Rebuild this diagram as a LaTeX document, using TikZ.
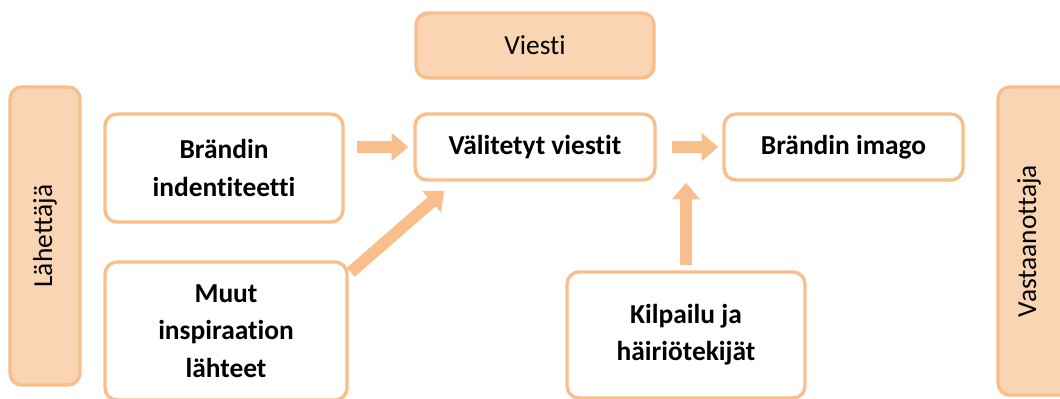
\documentclass[tikz,border=0pt]{standalone}
\usepackage{fontspec}
\setmainfont{Carlito}[Ligatures=NoCommon]
\usepackage{tikz}
\usetikzlibrary{arrows.meta,calc}

\definecolor{peach}{HTML}{F8BE8B}
\definecolor{peachfill}{HTML}{FAD5B4}

\begin{document}
\begin{tikzpicture}[x=0.025cm,y=-0.025cm,
	box/.style={draw=peach,line width=2.4pt,rounded corners=0.3cm,fill=white,align=center,
		font=\fontsize{19.5}{26.5}\selectfont\bfseries},
	tone/.style={draw=peach,line width=2.4pt,rounded corners=0.3cm,fill=peachfill,align=center,
		font=\fontsize{19.5}{26.5}\selectfont},
	bigarrow/.style={draw=peach,line width=0.3cm,-{Triangle[length=0.42cm,width=0.68cm]}}]
			\useasboundingbox (0,0) rectangle (1060,399);
			\node[tone,minimum width=70*0.025cm,minimum height=298*0.025cm] (send) at (45,236) {};
			\node[rotate=90,font=\fontsize{19.5}{26.5}\selectfont] at (send) {Lähettäjä};
			\node[tone,minimum width=80*0.025cm,minimum height=308*0.025cm] (recv) at (1038,241) {};
			\node[rotate=90,font=\fontsize{19.5}{26.5}\selectfont] at (1029,241) {Vastaanottaja};
			\node[tone,minimum width=238*0.025cm,minimum height=65*0.025cm] (msg) at (535,45.5) {Viesti};
			\node[box,minimum width=238*0.025cm,minimum height=108*0.025cm] (ident) at (224,168) {Brändin\\indentiteetti};
			\node[box,minimum width=242*0.025cm,minimum height=138*0.025cm] (muut) at (226,331) {Muut\\inspiraation\\lähteet};
			\node[box,minimum width=240*0.025cm,minimum height=66*0.025cm] (valit) at (535,147) {Välitetyt viestit};
			\node[box,minimum width=239*0.025cm,minimum height=66*0.025cm] (imago) at (843.5,147) {Brändin imago};
			\node[box,minimum width=238*0.025cm,minimum height=126*0.025cm] (kilp) at (686,335) {Kilpailu ja\\häiriötekijät};
			\draw[bigarrow,shorten <=12*0.025cm,shorten >=5*0.025cm] (ident.east |- valit) -- (valit.west);
			\draw[bigarrow,shorten <=15*0.025cm,shorten >=4*0.025cm] (valit.east) -- (imago.west);
			\draw[bigarrow] ($(muut.north east)+(2,12)$) -- ($(valit.south west)+(31,9)$);
			\draw[bigarrow,shorten <=5*0.025cm,shorten >=1*0.025cm] (kilp.north) -- (kilp.north |- valit.south);
		\end{tikzpicture}
\end{document}
